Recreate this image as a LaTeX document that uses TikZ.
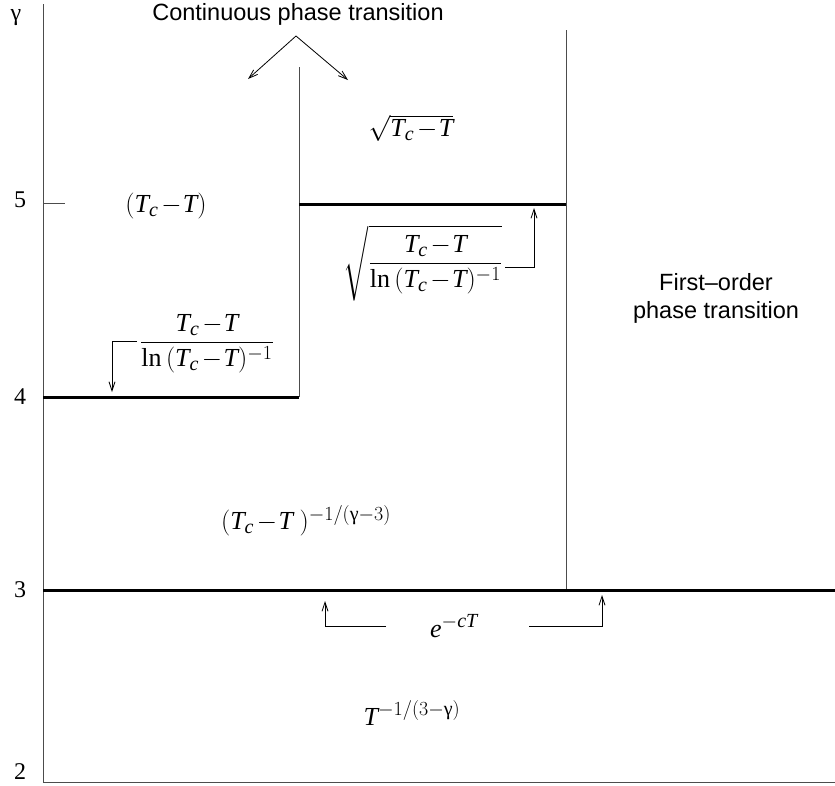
\RequirePackage{fix-cm}
\documentclass[tikz,border=0pt]{standalone}
\usepackage{amsmath}
\usepackage{fontspec}
\setmainfont{Liberation Serif}
\setsansfont{Liberation Sans}
\usetikzlibrary{arrows.meta}
\DeclareMathSizes{26}{26}{20}{15}
\newcommand\iT{\text{\itshape T}}
\newcommand\iTc{\iT_{\text{\itshape c}}}
\newcommand\ugam{\text{γ}}
\newcommand\mn{\mskip2mu{-}\mskip1mu}
\begin{document}
\begin{tikzpicture}[x=1pt,y=-1pt,
  thin line/.style={line width=0.9pt, draw=black!70},
  thick line/.style={line width=3pt},
  pointer/.style={line width=0.8pt, -{Straight Barb[length=9pt,width=6pt]}},
  lab/.style={inner sep=0pt, font=\fontsize{26}{30}\selectfont},
  tick/.style={inner sep=0pt, font=\fontsize{24}{28}\selectfont},
  sans/.style={inner sep=0pt, font=\sffamily\fontsize{23.5}{28}\selectfont, align=center}]
\useasboundingbox (0,0) rectangle (835,785);
% axes
\coordinate (ytop) at (43,4);
\coordinate (origin) at (43,782);
\coordinate (xend) at (835,782);
\draw[thin line] (ytop) -- (origin) -- (xend);
% tick labels
\node[tick] (g) at (16,18) {γ};
\node[tick] (t5) at (20,200) {5};
\node[tick] (t4) at (20,397) {4};
\node[tick] (t3) at (20,590) {3};
\node[tick] (t2) at (20,772) {2};
\coordinate (tk5a) at (43,203);
\coordinate (tk5b) at (65,203);
\draw[thin line] (tk5a) -- (tk5b);
% phase boundaries
\coordinate (a4l) at (43,397);
\coordinate (a4r) at (299,397);
\coordinate (v1t) at (299,67);
\coordinate (a5l) at (299,204);
\coordinate (a5r) at (566,204);
\coordinate (v2t) at (566,30);
\coordinate (v2b) at (566,590);
\coordinate (a3l) at (43,590);
\coordinate (a3r) at (835,590);
\draw[thin line] (v1t) -- (a4r);
\draw[thin line] (v2t) -- (v2b);
\draw[thick line] (a4l) -- (a4r);
\draw[thick line] (a5l) -- (a5r);
\draw[thick line] (a3l) -- (a3r);
% titles
\node[sans] (cont) at (298,14) {Continuous phase transition};
\node[sans] (first) at (716,298) {First--order\\phase transition};
\coordinate (cp) at (296,36);
\coordinate (cl) at (248,79);
\coordinate (cr) at (348,80);
\draw[pointer] (cp) -- (cl);
\draw[pointer] (cp) -- (cr);
% region labels
\node[lab] (r1) at (166,206) {$(\iTc\mn\iT)$};
\node[lab] (r2) at (411,128) {$\sqrt{\iTc\mn\iT}$};
\node[lab] (r3) at (207,344) {$\dfrac{\iTc\mn\iT}{\ln\,(\iTc\mn\iT)^{-1}}$};
\node[lab] (r4) at (423,263) {$\sqrt{\dfrac{\iTc\mn\iT}{\ln\,(\iTc\mn\iT)^{-1}}}$};
\node[lab] (r5) at (306,521) {$(\iTc\mn\iT\ )^{-1/(\ugam-3)}$};
\node[lab] (r6) at (454,626) {$\text{\itshape e}^{-\text{\itshape c}\iT}$};
\node[lab] (r7) at (412,713) {$\iT^{-1/(3-\ugam)}$};
% pointers
\coordinate (p1s) at (137,341);
\coordinate (p1c) at (112,341);
\coordinate (p1e) at (112,392);
\draw[pointer] (p1s) -- (p1c) -- (p1e);
\coordinate (p2s) at (505,267);
\coordinate (p2c) at (534,267);
\coordinate (p2e) at (534,208);
\draw[pointer] (p2s) -- (p2c) -- (p2e);
\coordinate (p3s) at (386,626);
\coordinate (p3c) at (325,626);
\coordinate (p3e) at (325,601);
\draw[pointer] (p3s) -- (p3c) -- (p3e);
\coordinate (p4s) at (529,626);
\coordinate (p4c) at (602,626);
\coordinate (p4e) at (602,595);
\draw[pointer] (p4s) -- (p4c) -- (p4e);
\end{tikzpicture}
\end{document}
